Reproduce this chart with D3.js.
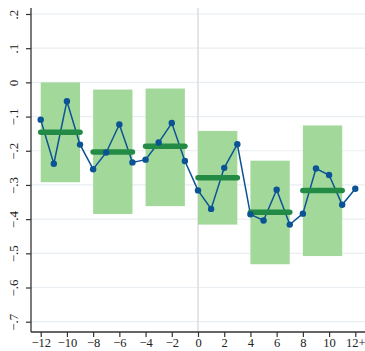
<!DOCTYPE html>
<html><head><meta charset="utf-8">
<script src="https://cdn.jsdelivr.net/npm/d3@7"></script>
<style>body{margin:0;background:#fff}svg{display:block}</style>
</head><body><svg id="c" width="365" height="351"></svg>
<script>
const eventTimes = [-12,-11,-10,-9,-8,-7,-6,-5,-4,-3,-2,-1,0,1,2,3,4,5,6,7,8,9,10,11,12];
const estimates = [-0.109,-0.238,-0.055,-0.182,-0.254,-0.205,-0.123,-0.234,-0.226,-0.176,-0.119,-0.230,
  -0.316,-0.370,-0.250,-0.181,-0.386,-0.404,-0.314,-0.416,-0.384,-0.252,-0.271,-0.358,-0.311];
const binStart = [-12,-8,-4,0,4,8];
const binEnd = [-9,-5,-1,3,7,11];
const binMean = [-0.146,-0.204,-0.187,-0.279,-0.380,-0.316];
const binLow = [-0.292,-0.385,-0.362,-0.416,-0.532,-0.508];
const binHigh = [0.0,-0.021,-0.018,-0.142,-0.229,-0.126];
const yTicks = [0.2,0.1,0,-0.1,-0.2,-0.3,-0.4,-0.5,-0.6,-0.7];
const xTicks = [-12,-10,-8,-6,-4,-2,0,2,4,6,8,10,12];
const xTickLabels = ["\u221212","\u221210","\u22128","\u22126","\u22124","\u22122","0","2","4","6","8","10","12+"];

const svg = d3.select("#c");
const L=31,R=365,T=8,B=332;
const x = d3.scaleLinear().domain([-12.74,12.74]).range([L,R]);
const y = d3.scaleLinear().domain([0.2,-0.7]).range([14,321.7]);
const font = "'Liberation Serif', 'DejaVu Serif', serif";

// grid
svg.append("g").selectAll("line").data(yTicks).join("line")
  .attr("x1",L).attr("x2",R).attr("y1",d=>y(d)).attr("y2",d=>y(d))
  .attr("stroke","#e8eef1").attr("stroke-width",1.2);
// vertical zero line
svg.append("line").attr("x1",x(0)).attr("x2",x(0)).attr("y1",T).attr("y2",B)
  .attr("stroke","#dcdcdc").attr("stroke-width",1.5);

// bars
svg.append("g").selectAll("rect").data(binStart).join("rect")
  .attr("x",(d,i)=>x(binStart[i])).attr("width",(d,i)=>x(binEnd[i])-x(binStart[i]))
  .attr("y",(d,i)=>y(binHigh[i])).attr("height",(d,i)=>y(binLow[i])-y(binHigh[i]))
  .attr("fill","#a2d99b");

// series line
const pts = eventTimes.map((t,i)=>[t,estimates[i]]);
svg.append("path").datum(pts)
  .attr("d", d3.line().x(d=>x(d[0])).y(d=>y(d[1])))
  .attr("fill","none").attr("stroke","#0b5394").attr("stroke-width",1.5);

// mean lines
svg.append("g").selectAll("line").data(binMean).join("line")
  .attr("x1",(d,i)=>x(binStart[i])).attr("x2",(d,i)=>x(binEnd[i]))
  .attr("y1",d=>y(d)).attr("y2",d=>y(d))
  .attr("stroke","#238b45").attr("stroke-width",5.5).attr("stroke-linecap","round");

// points
svg.append("g").selectAll("circle").data(pts).join("circle")
  .attr("cx",d=>x(d[0])).attr("cy",d=>y(d[1])).attr("r",3.2)
  .attr("fill","#0b5394");

// axes
const yAxis = svg.append("g").attr("transform",`translate(${L},0)`)
  .call(d3.axisLeft(y).tickValues(yTicks).tickSize(5).tickFormat(d=> d===0?"0":(d<0?"\u2212":"")+String(Math.abs(d).toFixed(1)).replace(/^0/,"")));
yAxis.select(".domain").attr("d",`M0,${T}V${B}`).attr("stroke","#333").attr("stroke-width",1.3);
yAxis.selectAll(".tick line").attr("stroke","#333").attr("stroke-width",1.2);
yAxis.selectAll(".tick text").attr("font-family",font).attr("font-size",13).attr("fill","#222")
  .attr("text-anchor","middle")
  .attr("transform","translate(-10,0) rotate(-90)").attr("x",0).attr("y",0).attr("dy","-0.2em");

const xAxis = svg.append("g").attr("transform",`translate(0,${B})`)
  .call(d3.axisBottom(x).tickValues(xTicks).tickSize(5).tickFormat((d,i)=>xTickLabels[i]));
xAxis.select(".domain").attr("d",`M${L},0H${R}`).attr("stroke","#333").attr("stroke-width",1.3);
xAxis.selectAll(".tick line").attr("stroke","#333").attr("stroke-width",1.2);
xAxis.selectAll(".tick text").attr("font-family",font).attr("font-size",12.5).attr("fill","#222")
  .attr("y",6.5).attr("dy","0.71em");
</script></body></html>
